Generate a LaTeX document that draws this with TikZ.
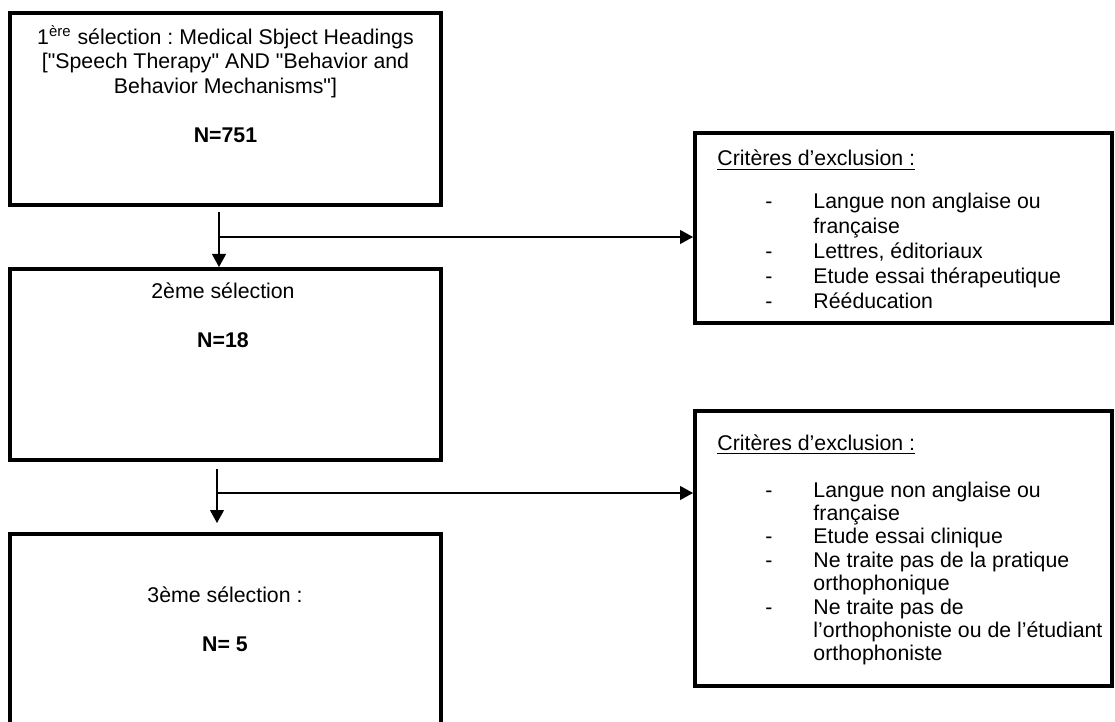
\documentclass[tikz,border=0pt]{standalone}
\usepackage{fontspec}
\setmainfont{Liberation Sans}
\usetikzlibrary{arrows.meta,positioning}
\frenchspacing

\tikzset{
  selbox/.style={draw, line width=2pt, minimum width=215.5pt, inner sep=0pt},
  exclbox/.style={draw, line width=2pt, minimum width=208.5pt, inner sep=0pt},
  txt/.style={font=\fontsize{10.65}{12.25}\selectfont, inner sep=0pt},
  flow/.style={line width=0.6pt, -{Triangle[length=6.5pt,width=7pt]}}
}

\begin{document}
\begin{tikzpicture}[x=0.5pt,y=-0.5pt]
  \useasboundingbox (0,0) rectangle (1115,722);

  % Selection boxes
  \node[selbox, minimum height=96pt] (sel1) at (225.5,109) {};
  \node[selbox, minimum height=95.5pt] (sel2) at (225.5,364.5) {};
  \node[selbox, minimum height=95.5pt] (sel3) at (225.5,629.5) {};

  % Exclusion boxes
  \node[exclbox, minimum height=95pt] (excl1) at (903.5,228) {};
  \node[exclbox, minimum height=137.5pt] (excl2) at (903.5,548.5) {};

  % Selection texts
  \node[txt, align=center, anchor=north] (sel1txt) at (225.5,25)
    {1\textsuperscript{ère} sélection : Medical Sbject Headings\\
     {[}\textquotedbl Speech Therapy\textquotedbl{} AND \textquotedbl Behavior and\\
     Behavior Mechanisms\textquotedbl]\\[12.25pt]
     \textbf{N=751}};
  \node[txt, align=center, anchor=north] (sel2txt) at (223,282)
    {2ème sélection\\[12.25pt] \textbf{N=18}};
  \node[txt, align=center, anchor=north] (sel3txt) at (225,586)
    {3ème sélection :\\[12.25pt] \textbf{N= 5}};

  % Exclusion texts
  \node[txt, anchor=base west] (excl1head) at (717,166) {\underline{Critères d’exclusion :}};
  \node[txt, font=\fontsize{10.65}{12.4}\selectfont, anchor=base west] (excl1list) at (765,209)
    {\begin{tabular}[t]{@{}l@{\hspace{20.5pt}}l@{}}
      - & Langue non anglaise ou\\
        & française\\
      - & Lettres, éditoriaux\\
      - & Etude essai thérapeutique\\
      - & Rééducation
    \end{tabular}};
  \node[txt, anchor=base west] (excl2head) at (717,450) {\underline{Critères d’exclusion :}};
  \node[txt, font=\fontsize{10.65}{11.7}\selectfont, anchor=base west] (excl2list) at (765,497)
    {\begin{tabular}[t]{@{}l@{\hspace{20.5pt}}l@{}}
      - & Langue non anglaise ou\\
        & française\\
      - & Etude essai clinique\\
      - & Ne traite pas de la pratique\\
        & orthophonique\\
      - & Ne traite pas de\\
        & l’orthophoniste ou de l’étudiant\\
        & orthophoniste
    \end{tabular}};

  % Connectors
  \coordinate (fork1) at (219,237);
  \coordinate (fork2) at (217,493);
  \draw[flow, shorten <=2.5pt] (fork1 |- sel1.south) -- (fork1 |- sel2.north);
  \draw[flow] (fork1) -- (fork1 -| excl1.west);
  \draw[flow, shorten <=3.5pt, shorten >=4.5pt] (fork2 |- sel2.south) -- (fork2 |- sel3.north);
  \draw[flow] (fork2) -- (fork2 -| excl2.west);
\end{tikzpicture}
\end{document}
